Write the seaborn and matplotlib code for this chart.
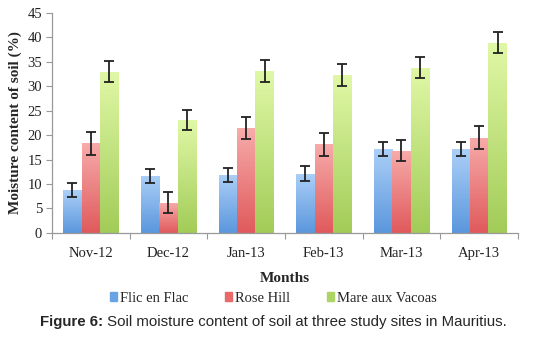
import numpy as np
import pandas as pd
import matplotlib
matplotlib.use("Agg")
import matplotlib.pyplot as plt
import matplotlib.colors as mcolors
import seaborn as sns

months = ["Nov-12", "Dec-12", "Jan-13", "Feb-13", "Mar-13", "Apr-13"]
sites = ["Flic en Flac", "Rose Hill", "Mare aux Vacoas"]

flic = [8.7, 11.7, 11.9, 12.1, 17.2, 17.1]
rose = [18.3, 6.2, 21.4, 18.1, 16.8, 19.5]
mare = [33.0, 23.1, 33.1, 32.3, 33.8, 38.9]

flic_err = [1.4, 1.4, 1.4, 1.5, 1.4, 1.4]
rose_err = [2.3, 2.2, 2.3, 2.3, 2.2, 2.3]
mare_err = [2.1, 2.1, 2.2, 2.2, 2.1, 2.1]

colors = ["#6aa3e4", "#e8696a", "#add565"]
bottom_colors = ["#5b97dd", "#e05a5c", "#a2cc58"]
top_colors = ["#abcff7", "#f7abaa", "#e0f8a6"]

df = pd.DataFrame({
    "month": months * 3,
    "site": [s for s in sites for _ in months],
    "value": flic + rose + mare,
})
errs = [flic_err, rose_err, mare_err]

sns.set_style("white")
plt.rcParams["font.family"] = ["Liberation Serif", "DejaVu Serif"]

fig = plt.figure(figsize=(5.47, 3.38), dpi=100)
ax = fig.add_axes([0.095, 0.311, 0.852, 0.651])

sns.barplot(data=df, x="month", y="value", hue="site", order=months,
            hue_order=sites, palette=colors, width=0.71, ax=ax,
            errorbar=None, legend=False, saturation=1)

# gradient fill + error bars
bar_groups = list(ax.containers)
for k, cont in enumerate(bar_groups):
    cmap = mcolors.LinearSegmentedColormap.from_list("g", [bottom_colors[k], top_colors[k]])
    for i, bar in enumerate(cont):
        x0, w, h = bar.get_x(), bar.get_width(), bar.get_height()
        bar.set_facecolor("none")
        bar.set_edgecolor("none")
        grad = np.linspace(0, 1, 100).reshape(-1, 1)
        im = ax.imshow(grad, cmap=cmap, origin="lower", aspect="auto",
                       extent=[x0, x0 + w, 0, h], zorder=2)
        im.set_clip_path(bar)
        ax.errorbar(x0 + w / 2, h, yerr=errs[k][i], fmt="none",
                    ecolor="#222222", elinewidth=1.3, capsize=3.5,
                    capthick=1.3, zorder=4)

ax.set_xlim(-0.5, 5.5)
ax.set_ylim(0, 45)
ax.set_yticks(range(0, 46, 5))
ax.set_xlabel("Months", fontsize=11, fontweight="bold", labelpad=9)
ax.set_ylabel("Moisture content of soil (%)", fontsize=11, fontweight="bold", labelpad=4)
ax.tick_params(axis="both", labelsize=10.5, colors="#222222", length=0)
ax.tick_params(axis="y", left=True, length=4, color="#999999", width=0.8, pad=3)
sns.despine(ax=ax)
for sp in ["left", "bottom"]:
    ax.spines[sp].set_color("#999999")
    ax.spines[sp].set_linewidth(0.9)
# group boundary ticks on x axis
ax.set_xticks(np.arange(-0.5, 6, 1), minor=True)
ax.tick_params(axis="x", which="minor", bottom=True, length=4, color="#999999", width=0.8)
ax.tick_params(axis="x", which="major", pad=10)

handles = [plt.Rectangle((0, 0), 1, 1, color=c) for c in colors]
fig.legend(handles, sites, loc="center", bbox_to_anchor=(0.5, 0.118), ncol=3,
           frameon=False, fontsize=10.5, handlelength=0.5, handleheight=0.5,
           handletextpad=0.2, columnspacing=2.5)

# caption
fig.canvas.draw()
r = fig.canvas.get_renderer()
t1 = fig.text(0, 0.048, "Figure 6:", fontsize=10.8, fontweight="bold",
              family=["Liberation Sans", "DejaVu Sans"], va="center")
t2 = fig.text(0, 0.048, " Soil moisture content of soil at three study sites in Mauritius.",
              fontsize=10.8, family=["Liberation Sans", "DejaVu Sans"], va="center")
w1 = t1.get_window_extent(r).width
w2 = t2.get_window_extent(r).width
W = fig.bbox.width
start = (W - w1 - w2) / 2 / W
t1.set_x(start)
t2.set_x(start + w1 / W)

fig.savefig("out.png", dpi=100)
